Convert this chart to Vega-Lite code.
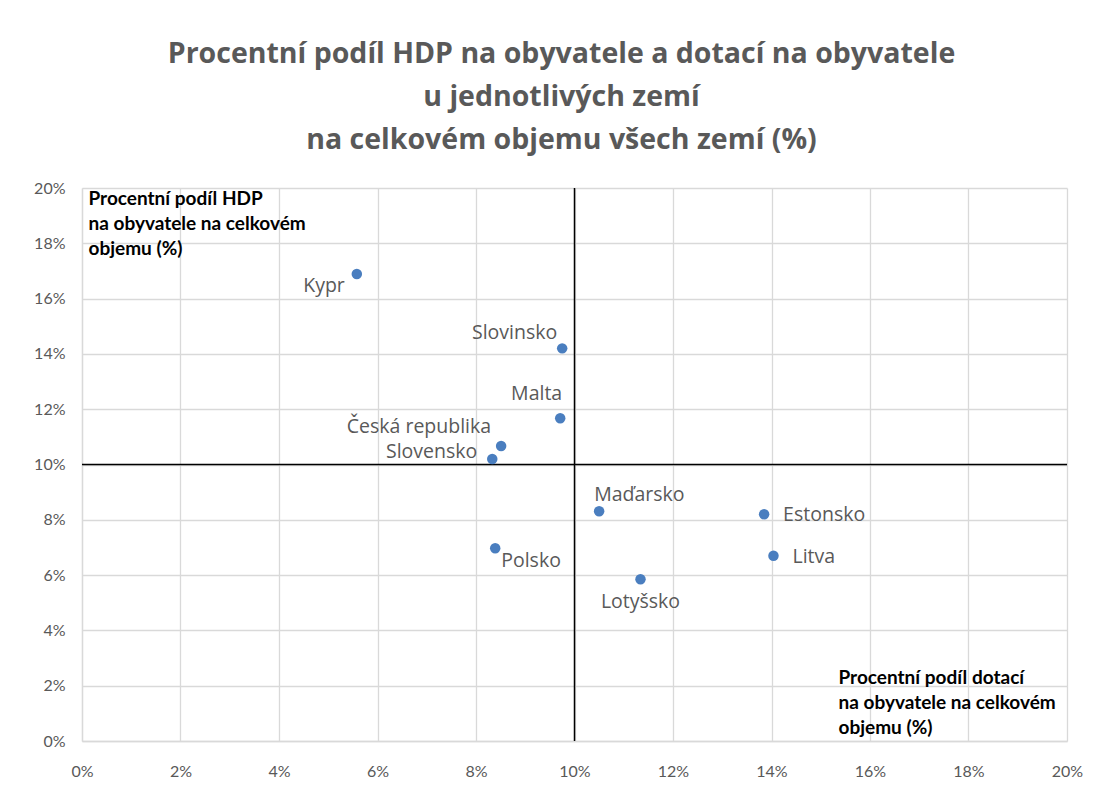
{
  "$schema": "https://vega.github.io/schema/vega-lite/v6.json",
  "width": 985,
  "height": 553,
  "autosize": {"type": "none"},
  "padding": {"left": 82, "top": 188, "right": 33, "bottom": 51},
  "background": "white",
  "title": {
    "text": ["Procentní podíl HDP na obyvatele a dotací na obyvatele", "u jednotlivých zemí", "na celkovém objemu všech zemí (%)"],
    "font": "Open Sans",
    "fontSize": 28.5,
    "fontWeight": "bold",
    "color": "#595959",
    "lineHeight": 43,
    "anchor": "middle",
    "dx": -13,
    "offset": 26
  },
  "config": {
    "view": {"stroke": null},
    "axis": {
      "labelFont": "Lato",
      "labelFontSize": 16,
      "labelColor": "#595959",
      "labelFlush": false,
      "titleFont": "Lato",
      "titleFontSize": 19,
      "titleFontWeight": "bold",
      "titleColor": "#000000",
      "titleLineHeight": 25,
      "gridColor": "#d9d9d9",
      "gridWidth": 1.3,
      "domainColor": "#d9d9d9",
      "domainWidth": 1.3,
      "ticks": false
    }
  },
  "data": {
    "values": [
      {"country": "Kypr", "dotace": 0.0558, "hdp": 0.1689},
      {"country": "Slovinsko", "dotace": 0.0975, "hdp": 0.1420},
      {"country": "Malta", "dotace": 0.0971, "hdp": 0.1167},
      {"country": "Česká republika", "dotace": 0.0851, "hdp": 0.1067},
      {"country": "Slovensko", "dotace": 0.0833, "hdp": 0.1020},
      {"country": "Maďarsko", "dotace": 0.1050, "hdp": 0.0831},
      {"country": "Estonsko", "dotace": 0.1385, "hdp": 0.0820},
      {"country": "Litva", "dotace": 0.1404, "hdp": 0.0670},
      {"country": "Polsko", "dotace": 0.0839, "hdp": 0.0697},
      {"country": "Lotyšsko", "dotace": 0.1134, "hdp": 0.0585}
    ]
  },
  "encoding": {
    "x": {
      "field": "dotace", "type": "quantitative",
      "scale": {"domain": [0, 0.2], "nice": false},
      "axis": {
        "values": [0, 0.02, 0.04, 0.06, 0.08, 0.1, 0.12, 0.14, 0.16, 0.18, 0.2],
        "format": ".0%",
        "labelPadding": 22,
        "title": ["Procentní podíl dotací", "na obyvatele na celkovém", "objemu (%)"],
        "titleAngle": 0,
        "titleAlign": "left",
        "titleBaseline": "top",
        "titleX": 756,
        "titleY": -73
      }
    },
    "y": {
      "field": "hdp", "type": "quantitative",
      "scale": {"domain": [0, 0.2], "nice": false},
      "axis": {
        "values": [0, 0.02, 0.04, 0.06, 0.08, 0.1, 0.12, 0.14, 0.16, 0.18, 0.2],
        "format": ".0%",
        "labelPadding": 17,
        "title": ["Procentní podíl HDP", "na obyvatele na celkovém", "objemu (%)"],
        "titleAngle": 0,
        "titleAlign": "left",
        "titleBaseline": "top",
        "titleX": 6,
        "titleY": 1
      }
    }
  },
  "layer": [
    {
      "data": {"values": [{"ref": 0.1}]},
      "mark": {"type": "rule", "color": "#000000", "strokeWidth": 1.5},
      "encoding": {"x": {"field": "ref", "type": "quantitative"}, "y": null}
    },
    {
      "data": {"values": [{"ref": 0.1}]},
      "mark": {"type": "rule", "color": "#000000", "strokeWidth": 1.5},
      "encoding": {"y": {"field": "ref", "type": "quantitative"}, "x": null}
    },
    {
      "mark": {"type": "circle", "size": 110, "color": "#4a7ebf", "opacity": 1}
    },
    {
      "transform": [{"filter": "datum.country === 'Kypr'"}],
      "mark": {"type": "text", "font": "Open Sans", "fontSize": 19.5, "color": "#595959", "align": "right", "baseline": "middle", "dx": -12, "dy": 12},
      "encoding": {"text": {"field": "country"}}
    },
    {
      "transform": [{"filter": "datum.country === 'Slovinsko'"}],
      "mark": {"type": "text", "font": "Open Sans", "fontSize": 19.5, "color": "#595959", "align": "right", "baseline": "middle", "dx": -5, "dy": -15},
      "encoding": {"text": {"field": "country"}}
    },
    {
      "transform": [{"filter": "datum.country === 'Malta'"}],
      "mark": {"type": "text", "font": "Open Sans", "fontSize": 19.5, "color": "#595959", "align": "right", "baseline": "middle", "dx": 2, "dy": -24},
      "encoding": {"text": {"field": "country"}}
    },
    {
      "transform": [{"filter": "datum.country === 'Česká republika'"}],
      "mark": {"type": "text", "font": "Open Sans", "fontSize": 19.5, "color": "#595959", "align": "right", "baseline": "middle", "dx": -10, "dy": -19},
      "encoding": {"text": {"field": "country"}}
    },
    {
      "transform": [{"filter": "datum.country === 'Slovensko'"}],
      "mark": {"type": "text", "font": "Open Sans", "fontSize": 19.5, "color": "#595959", "align": "right", "baseline": "middle", "dx": -15, "dy": -7},
      "encoding": {"text": {"field": "country"}}
    },
    {
      "transform": [{"filter": "datum.country === 'Maďarsko'"}],
      "mark": {"type": "text", "font": "Open Sans", "fontSize": 19.5, "color": "#595959", "align": "left", "baseline": "middle", "dx": -5, "dy": -16},
      "encoding": {"text": {"field": "country"}}
    },
    {
      "transform": [{"filter": "datum.country === 'Estonsko' || datum.country === 'Litva'"}],
      "mark": {"type": "text", "font": "Open Sans", "fontSize": 19.5, "color": "#595959", "align": "left", "baseline": "middle", "dx": 19, "dy": 1},
      "encoding": {"text": {"field": "country"}}
    },
    {
      "transform": [{"filter": "datum.country === 'Polsko'"}],
      "mark": {"type": "text", "font": "Open Sans", "fontSize": 19.5, "color": "#595959", "align": "left", "baseline": "middle", "dx": 6, "dy": 13},
      "encoding": {"text": {"field": "country"}}
    },
    {
      "transform": [{"filter": "datum.country === 'Lotyšsko'"}],
      "mark": {"type": "text", "font": "Open Sans", "fontSize": 19.5, "color": "#595959", "align": "center", "baseline": "middle", "dx": 0, "dy": 23},
      "encoding": {"text": {"field": "country"}}
    }
  ]
}
